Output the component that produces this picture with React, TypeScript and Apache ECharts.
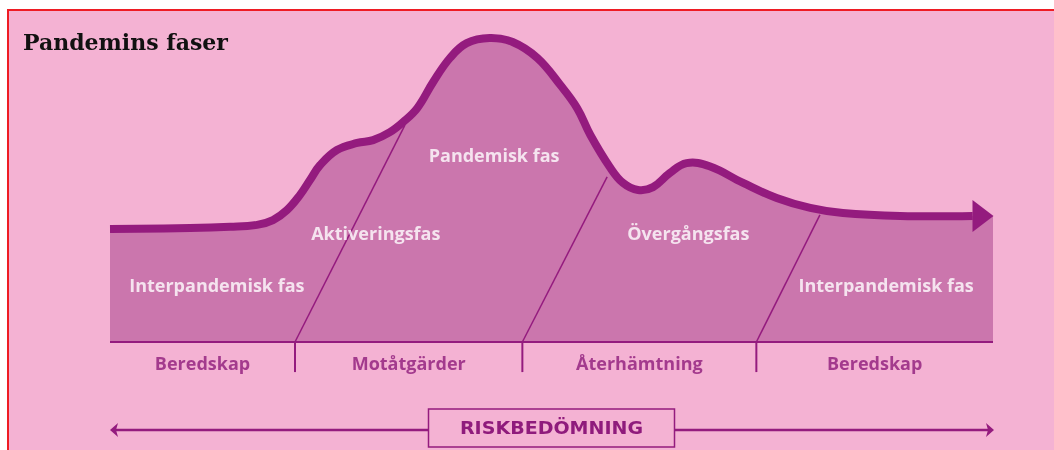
import React, { useEffect, useRef } from "react";
import * as echarts from "echarts";

// Curve of pandemic intensity over time (0..100 time units, 0..100 level)
const curveX = [0, 9.06, 13.6, 16.65, 18.46, 20.05, 21.5, 22.65, 23.8, 25.7, 28, 29.8, 31.7, 33.2, 34.8, 36.6, 38.5, 40.4, 43, 45.6, 48.4, 51, 52.9, 54.4, 56.6, 58.1, 59.8, 61.5, 63.4, 65.3, 67.9, 71.7, 75.5, 79.3, 83, 89.5, 97.7, 100];
const curveY = [35.3, 35.6, 36.0, 36.6, 38.1, 41.25, 45.9, 50.6, 55.3, 60, 62.2, 63.1, 65.6, 68.75, 73.1, 81.25, 88.75, 93.4, 95, 93.75, 88.75, 80.3, 73.1, 64.7, 54.7, 49.7, 47.5, 48.4, 52.8, 55.9, 54.9, 49.7, 45, 41.9, 40.3, 39.4, 39.4, 39.4];

// Phase dividers: bottom x on baseline, and top point on the curve
const dividerBottomX = [20.95, 46.7, 73.2];
const dividerTopX = [33.4, 56.3, 80.4];
const dividerTopY = [67.8, 51.6, 39.7];

const phaseLabels = ["Interpandemisk fas", "Aktiveringsfas", "Pandemisk fas", "Övergångsfas", "Interpandemisk fas"];
const phaseLabelX = [12.1, 30.1, 43.5, 65.5, 87.9];
const phaseLabelY = [17.8, 34, 58.4, 34, 17.8];

const responseLabels = ["Beredskap", "Motåtgärder", "Återhämtning", "Beredskap"];
const tickDepth = -9.4;
const responseLabelY = -6.6;

const titleText = "Pandemins faser";
const riskText = "RISKBEDÖMNING";

const PINK = "#f4b2d3";
const FILL = "#cb76ad";
const PURPLE = "#941b7e";
const TEXT_PURPLE = "#8f1b7c";

function splinePath(pts: number[][]): string {
  let d = `M${pts[0][0]},${pts[0][1]}`;
  const dist = (a: number[], b: number[]) => Math.hypot(b[0] - a[0], b[1] - a[1]) || 1e-6;
  const t = 0.4;
  for (let i = 0; i < pts.length - 1; i++) {
    const p0 = pts[i - 1] || pts[i];
    const p1 = pts[i];
    const p2 = pts[i + 1];
    const p3 = pts[i + 2] || p2;
    const d01 = dist(p0, p1), d12 = dist(p1, p2), d23 = dist(p2, p3);
    const r1 = i === 0 ? 0 : d12 / (d01 + d12);
    const r2 = i + 2 >= pts.length ? 0 : d12 / (d12 + d23);
    const c1x = p1[0] + (p2[0] - p0[0]) * r1 * t;
    const c1y = p1[1] + (p2[1] - p0[1]) * r1 * t;
    const c2x = p2[0] - (p3[0] - p1[0]) * r2 * t;
    const c2y = p2[1] - (p3[1] - p1[1]) * r2 * t;
    d += ` C${c1x},${c1y} ${c2x},${c2y} ${p2[0]},${p2[1]}`;
  }
  return d;
}

export default function App() {
  const ref = useRef<HTMLDivElement>(null);
  useEffect(() => {
    if (!ref.current) return;
    const chart = echarts.init(ref.current, undefined, { renderer: "svg" });
    const xMin = 0, xMax = 100;
    const boundaries = [xMin, ...dividerBottomX, xMax];
    const mids = responseLabels.map((_, i) => (boundaries[i] + boundaries[i + 1]) / 2);
    const curveData = curveX.map((x, i) => [x, curveY[i]]);
    const last = curveData[curveData.length - 1];

    const series: any[] = [
      {
        type: "custom",
        data: curveData,
        silent: true,
        clip: false,
        z: 2,
        renderItem: (params: any, api: any) => {
          if (params.dataIndex !== 0) return null;
          const pts = curveData.map((p) => api.coord(p));
          const b0 = api.coord([curveData[0][0], 0]);
          const b1 = api.coord([last[0], 0]);
          const d = splinePath(pts) + ` L${b1[0]},${b1[1]} L${b0[0]},${b0[1]} Z`;
          return { type: "path", shape: { pathData: d }, style: { fill: FILL, stroke: null } };
        },
      },
      ...dividerBottomX.map((bx, i) => ({
        type: "line",
        data: [[bx, 0], [dividerTopX[i], dividerTopY[i]]],
        showSymbol: false,
        silent: true,
        lineStyle: { width: 1.5, color: PURPLE },
        z: 3,
      })),
      {
        type: "custom",
        data: curveData,
        silent: true,
        clip: false,
        z: 4,
        renderItem: (params: any, api: any) => {
          if (params.dataIndex !== 0) return null;
          const pts = curveData.slice(0, curveData.length - 1).map((p) => api.coord(p));
          return {
            type: "path",
            shape: { pathData: splinePath(pts) },
            style: { fill: "none", stroke: PURPLE, lineWidth: 8, lineCap: "butt", lineJoin: "round" },
          };
        },
      },
      {
        type: "scatter",
        data: [[98.87, last[1]]],
        symbol: "triangle",
        symbolRotate: -90,
        symbolSize: [32, 21],
        itemStyle: { color: PURPLE, opacity: 1 },
        silent: true,
        z: 5,
      },
      {
        type: "line",
        data: [[xMin, 0], [xMax, 0]],
        showSymbol: false,
        silent: true,
        lineStyle: { width: 2, color: PURPLE },
        z: 3,
      },
      ...dividerBottomX.map((bx) => ({
        type: "line",
        data: [[bx, 0], [bx, tickDepth]],
        showSymbol: false,
        silent: true,
        lineStyle: { width: 2, color: PURPLE },
        z: 3,
      })),
      {
        type: "scatter",
        data: phaseLabels.map((n, i) => ({ name: n, value: [phaseLabelX[i], phaseLabelY[i]] })),
        symbolSize: 0,
        silent: true,
        label: {
          show: true,
          position: "inside",
          formatter: "{b}",
          color: "#ffffff",
          fontFamily: "Open Sans",
          fontWeight: "bold",
          fontSize: 18,
        },
        z: 6,
      },
      {
        type: "scatter",
        data: responseLabels.map((n, i) => ({ name: n, value: [mids[i], responseLabelY] })),
        symbolSize: 0,
        silent: true,
        label: {
          show: true,
          position: "inside",
          formatter: "{b}",
          color: TEXT_PURPLE,
          fontFamily: "Open Sans",
          fontWeight: "bold",
          fontSize: 18,
        },
        z: 6,
      },
    ];

    chart.setOption({
      animation: false,
      title: {
        text: titleText,
        left: 23,
        top: 31,
        padding: 0,
        textStyle: { fontFamily: "DejaVu Serif", fontWeight: "bold", fontSize: 22, color: "#111111" },
      },
      grid: { left: 110, right: 61, top: 22, bottom: 76 },
      xAxis: { type: "value", min: xMin, max: xMax, show: false },
      yAxis: { type: "value", min: -10, max: 100, show: false },
      graphic: [
        {
          type: "rect",
          z: -10,
          shape: { x: 8, y: 10, width: 1060, height: 460 },
          style: { fill: PINK, stroke: "#ee1c24", lineWidth: 2 },
          silent: true,
        },
        {
          type: "line",
          shape: { x1: 115, y1: 430, x2: 988, y2: 430 },
          style: { stroke: PURPLE, lineWidth: 2.5 },
          silent: true,
        },
        {
          type: "polygon",
          shape: { points: [[110, 430], [118, 423], [116, 430], [118, 437]] },
          style: { fill: PURPLE },
          silent: true,
        },
        {
          type: "polygon",
          shape: { points: [[994, 430], [986, 423], [988, 430], [986, 437]] },
          style: { fill: PURPLE },
          silent: true,
        },
        {
          type: "rect",
          shape: { x: 428.5, y: 409, width: 246, height: 38 },
          style: { fill: PINK, stroke: PURPLE, lineWidth: 1.5 },
          silent: true,
        },
        {
          type: "text",
          x: 551.5,
          y: 428,
          scaleX: 1.12,
          style: {
            text: riskText,
            fill: TEXT_PURPLE,
            font: "bold 17px 'DejaVu Sans'",
            align: "center",
            verticalAlign: "middle",
          },
          silent: true,
        },
      ],
      series,
    });
    return () => chart.dispose();
  }, []);
  return <div ref={ref} style={{ position: "fixed", left: 0, top: 0, width: 1054, height: 450 }} />;
}
